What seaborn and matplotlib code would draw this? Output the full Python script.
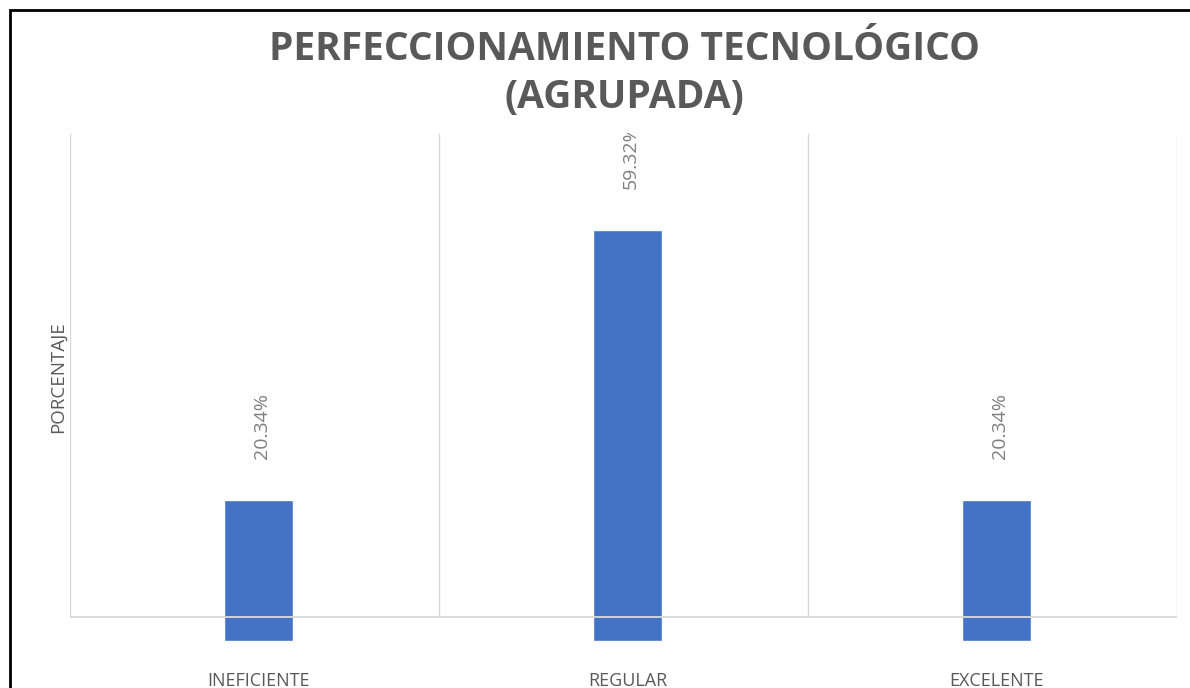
import matplotlib
matplotlib.use("Agg")
import matplotlib.pyplot as plt
import seaborn as sns
from matplotlib.patches import Rectangle

# ==========================
# Data
# ==========================

categorias = ["INEFICIENTE", "REGULAR", "EXCELENTE"]
porcentajes = [20.34, 59.32, 20.34]

titulo = "PERFECCIONAMIENTO TECNOLÓGICO\n(AGRUPADA)"
etiqueta_y = "PORCENTAJE"

# ==========================
# Style
# ==========================

sns.set_style("white")
plt.rcParams["font.family"] = ["Open Sans", "DejaVu Sans"]

gris_texto = "#595959"
gris_linea = "#d9d9d9"
azul = "#4472C4"

fig = plt.figure(figsize=(11.9, 6.88), dpi=100)
ax = fig.add_axes([0.0588, 0.0683, 0.9303, 0.7384])

sns.barplot(x=categorias, y=porcentajes, color=azul, saturation=1,
            width=0.185, ax=ax, zorder=2)

# bars sit slightly right of the category centres in the original
d = 0.011
ytop = 73.4
ax.set_ylim(0, ytop)
ax.set_xlim(-0.5 - d, len(categorias) - 0.5 - d)

# base line sits a bit above the bar bottoms, like the original
base = 3.47
ax.axhline(base, color=gris_linea, lw=1.3, zorder=3)
ax.vlines([i - 0.5 - d for i in range(len(categorias) + 1)], base, ytop,
          color=gris_linea, lw=1, zorder=1)

for i, v in enumerate(porcentajes):
    ax.text(i + 0.01, v + 6, f"{v:.2f}%", rotation=90, ha="center",
            va="bottom", fontsize=14, color="#7f7f7f", clip_on=True)

for s in ax.spines.values():
    s.set_visible(False)
ax.set_yticks([])
ax.tick_params(axis="x", length=0, pad=22, labelsize=13, labelcolor=gris_texto)
ax.set_ylabel(etiqueta_y, fontsize=13.5, color=gris_texto)
ax.yaxis.set_label_coords(-0.003, 0.52)
ax.set_xlabel("")

fig.text(0.525, 0.893, titulo, ha="center", va="center", fontsize=28,
         fontweight="bold", color=gris_texto, linespacing=1.28)

# outer frame (right and bottom edges fall outside the picture)
fig.patches.append(Rectangle((0.0085, -0.05), 1.05, 1.036,
                             transform=fig.transFigure, fill=False,
                             edgecolor="black", lw=2))

fig.savefig("out.png", dpi=100)
